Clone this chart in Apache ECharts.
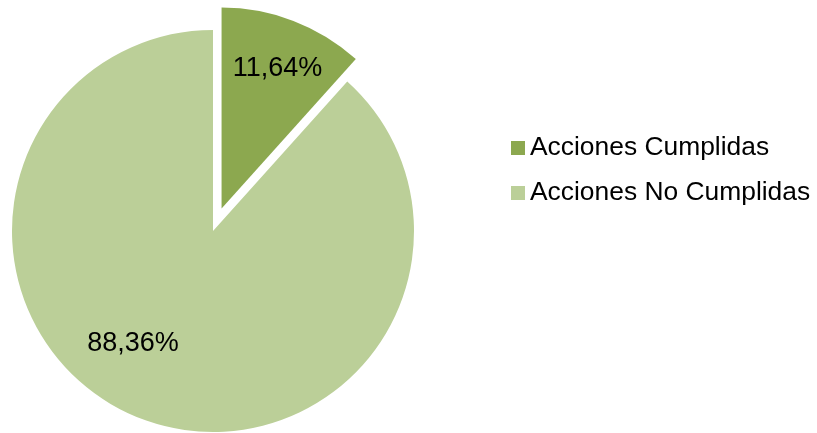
<!DOCTYPE html>
<html><head><meta charset="utf-8">
<script src="https://cdn.jsdelivr.net/npm/echarts@6/dist/echarts.min.js"></script>
<style>html,body{margin:0;padding:0;background:#fff}#c{width:817px;height:433px}</style>
</head><body><div id="c"></div>
<script>
const categories = ["Acciones Cumplidas", "Acciones No Cumplidas"];
const values = [11.64, 88.36];
const labels = ["11,64%", "88,36%"];
const colors = ["#8CA84F", "#BBCF98"];
const labelOffsets = [[19, -43], [-43, 16]];

const chart = echarts.init(document.getElementById('c'), null, {renderer: 'canvas'});
chart.setOption({
  animation: false,
  legend: {
    orient: 'vertical',
    left: 511, top: 135, padding: 0,
    itemWidth: 14, itemHeight: 14, itemGap: 19,
    icon: 'rect',
    selectedMode: false,
    textStyle: {fontFamily: 'Liberation Sans', fontSize: 26.4, lineHeight: 26, color: '#000'},
    data: categories
  },
  series: [{
    type: 'pie',
    center: [213, 231],
    radius: [0, 201],
    startAngle: 90,
    clockwise: true,
    selectedMode: 'single',
    selectedOffset: 24,
    silent: true,
    label: {show: true, position: 'inside', fontFamily: 'Liberation Sans', fontSize: 27, color: '#000'},
    labelLine: {show: false},
    emphasis: {disabled: true},
    itemStyle: {borderWidth: 0},
    data: categories.map((n, i) => ({
      name: n, value: values[i], selected: i === 0,
      itemStyle: {color: colors[i]},
      label: {formatter: labels[i], offset: labelOffsets[i]},
      select: {label: {formatter: labels[i], offset: labelOffsets[i]}}
    }))
  }]
});
</script></body></html>
